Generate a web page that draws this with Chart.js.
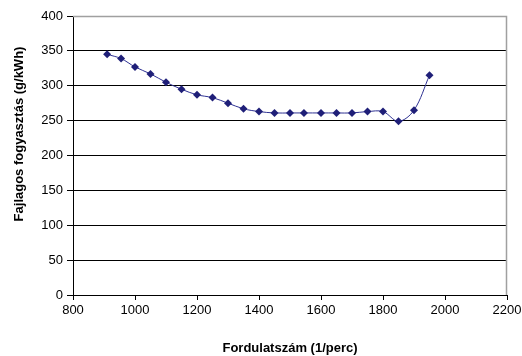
<!DOCTYPE html>
<html>
<head>
<meta charset="utf-8">
<script src="https://cdn.jsdelivr.net/npm/chart.js"></script>
<style>
  html, body { margin: 0; padding: 0; background: #fff; overflow: hidden; }
  #wrap { width: 522px; height: 356px; overflow: hidden; }
</style>
</head>
<body>
<div id="wrap"><canvas id="plot" width="545" height="356"></canvas></div>
<script>
// Fordulatszám (1/perc) és fajlagos fogyasztás (g/kWh)
const rpm = [910, 955, 1000, 1050, 1100, 1150, 1200, 1250, 1300, 1350, 1400,
             1450, 1500, 1545, 1600, 1650, 1700, 1750, 1800, 1850, 1900, 1950];
const consumption = [345, 339, 327, 317, 305, 295, 287, 283, 275, 267, 263,
                     261, 261, 261, 261, 261, 261, 263, 263, 249, 265, 315];
const xTitle = 'Fordulatszám (1/perc)';
const yTitle = 'Fajlagos fogyasztás (g/kWh)';

const font = 'Arial, "Liberation Sans", sans-serif';

// szürke keret a rajzterület jobb és felső szélén, plusz a függőleges tengelycím
const framePlugin = {
    id: 'frame',
    beforeDatasetsDraw(chart) {
        const { ctx, chartArea: a } = chart;
        ctx.save();
        ctx.strokeStyle = '#a0a0a0';
        ctx.lineWidth = 1.5;
        ctx.beginPath();
        ctx.moveTo(a.left, a.top + 0.5);
        ctx.lineTo(a.right - 0.5, a.top + 0.5);
        ctx.lineTo(a.right - 0.5, a.bottom);
        ctx.stroke();
        ctx.restore();
    },
    afterDraw(chart) {
        const { ctx } = chart;
        ctx.save();
        ctx.translate(19, 134);
        ctx.rotate(-Math.PI / 2);
        ctx.font = 'bold 13px ' + font;
        ctx.fillStyle = '#000';
        ctx.textAlign = 'center';
        ctx.textBaseline = 'middle';
        ctx.fillText(yTitle, 0, 0);
        ctx.restore();
    }
};

new Chart(document.getElementById('plot'), {
    type: 'line',
    data: {
        datasets: [{
            data: rpm.map((x, i) => ({ x: x, y: consumption[i] })),
            borderColor: '#2E3192',
            borderWidth: 1,
            backgroundColor: '#1F1F78',
            pointStyle: 'rectRot',
            pointRadius: 4,
            pointBorderWidth: 0,
            tension: 0.35,
            fill: false
        }]
    },
    options: {
        responsive: false,
        animation: false,
        layout: { padding: { left: 0, top: 16, right: 38, bottom: 0 } },
        plugins: { legend: { display: false }, tooltip: { enabled: false } },
        scales: {
            x: {
                type: 'linear',
                min: 800,
                max: 2200,
                ticks: { stepSize: 200, color: '#000', font: { family: font, size: 13 }, padding: 3, maxRotation: 0, callback: v => String(v) },
                grid: { drawOnChartArea: false, drawTicks: true, tickLength: 5, tickColor: '#000' },
                border: { color: '#000', width: 1 },
                title: { display: true, text: xTitle, color: '#000', font: { family: font, size: 13, weight: 'bold' }, padding: { top: 15, bottom: 0 } },
                afterFit(scale) { scale.height = 61; }
            },
            y: {
                min: 0,
                max: 400,
                ticks: { stepSize: 50, color: '#000', font: { family: font, size: 13 }, padding: 4, callback: v => String(v) },
                grid: {
                    color: ctx => ctx.tick && ctx.tick.value === 400 ? 'rgba(0,0,0,0)' : '#000',
                    lineWidth: 1,
                    drawTicks: true,
                    tickLength: 6,
                    tickColor: '#000'
                },
                border: { color: '#000', width: 1 },
                afterFit(scale) { scale.width = 73; }
            }
        }
    },
    plugins: [framePlugin]
});
</script>
</body>
</html>
